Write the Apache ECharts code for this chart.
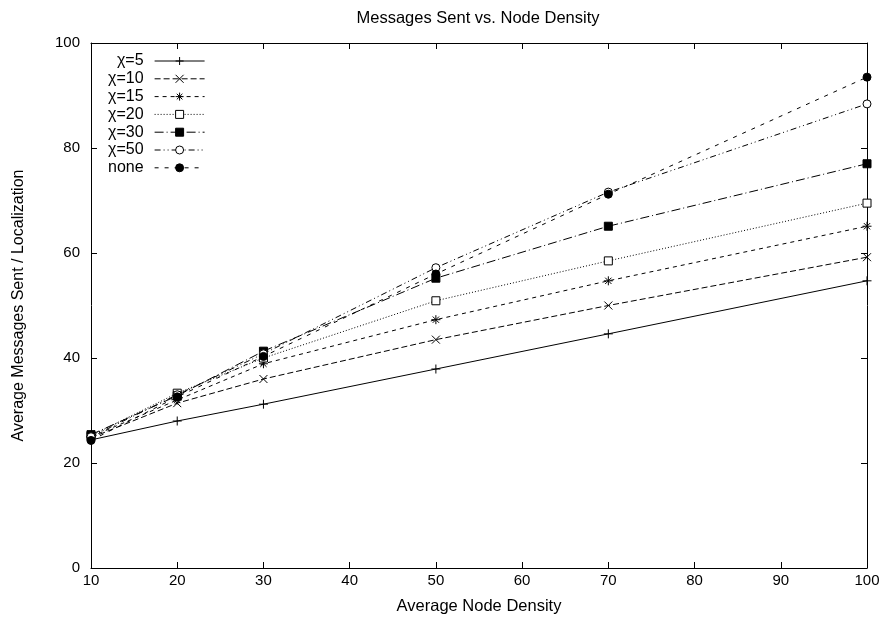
<!DOCTYPE html>
<html>
<head>
<meta charset="utf-8">
<script src="https://cdn.jsdelivr.net/npm/echarts@6/dist/echarts.min.js"></script>
<style>
html,body{margin:0;padding:0;background:#fff;}
#chart{width:885px;height:625px;}
</style>
</head>
<body>
<div id="chart"></div>
<script>
// ---- data ----
const xValues = [10, 20, 30, 50, 70, 100];
const seriesNames = ['\u03c7=5', '\u03c7=10', '\u03c7=15', '\u03c7=20', '\u03c7=30', '\u03c7=50', 'none'];
const chi5  = [24.4, 28.0, 31.2, 37.9, 44.6, 54.7];
const chi10 = [24.8, 31.4, 36.0, 43.5, 50.0, 59.2];
const chi15 = [25.0, 32.0, 38.9, 47.3, 54.7, 65.1];
const chi20 = [25.2, 33.3, 40.0, 50.9, 58.5, 69.5];
const chi30 = [25.4, 32.8, 41.3, 55.2, 65.1, 77.0];
const chi50 = [25.0, 33.0, 40.8, 57.2, 71.6, 88.4];
const none  = [24.3, 32.6, 40.3, 56.0, 71.2, 93.5];
const allValues = [chi5, chi10, chi15, chi20, chi30, chi50, none];
const xTicks = [10, 20, 30, 40, 50, 60, 70, 80, 90, 100];
const yTicks = [0, 20, 40, 60, 80, 100];

const FONT = '"Liberation Sans", Arial, Helvetica, sans-serif';
const black = '#000';

const symbols = [
  'path://M5 0 L5 10 M0 5 L10 5',
  'path://M0 0 L10 10 M10 0 L0 10',
  'path://M5 0 L5 10 M0 5 L10 5 M1.5 1.5 L8.5 8.5 M8.5 1.5 L1.5 8.5',
  'rect',
  'rect',
  'circle',
  'circle'
];
const fills = ['none', 'none', 'none', '#fff', black, '#fff', black];
const sizes = [9, 8, 9, 8, 8, 8, 8];
const dashes = [
  'solid',
  [6, 3],
  [4, 4],
  [1, 2],
  [9, 3, 1, 3],
  [6, 3, 1, 3, 1, 3],
  [4, 6]
];

const series = seriesNames.map((name, i) => ({
  name: name,
  type: 'line',
  data: xValues.map((x, j) => [x, allValues[i][j]]),
  symbol: symbols[i],
  symbolSize: sizes[i],
  showAllSymbol: true,
  animation: false,
  lineStyle: { color: black, width: 1, type: dashes[i] },
  itemStyle: { color: fills[i], borderColor: black, borderWidth: 1 },
  emphasis: { disabled: true },
  z: 2 + i
}));

const chart = echarts.init(document.getElementById('chart'), null, { renderer: 'canvas' });
chart.setOption({
  backgroundColor: '#fff',
  animation: false,
  textStyle: { fontFamily: FONT },
  title: {
    text: 'Messages Sent vs. Node Density',
    left: 473,
    textAlign: 'center',
    top: 5,
    textStyle: { fontFamily: FONT, fontSize: 16.5, fontWeight: 'normal', color: black }
  },
  grid: { left: 91, right: 18, top: 43, bottom: 57, containLabel: false },
  legend: {
    orient: 'vertical',
    left: 103,
    top: 48,
    align: 'right',
    itemWidth: 50,
    itemHeight: 10,
    itemGap: 1.8,
    selectedMode: false,
    data: seriesNames,
    itemStyle: { borderWidth: 1, borderColor: black },
    lineStyle: { width: 1, color: black },
    textStyle: { fontFamily: FONT, fontSize: 16, color: black, lineHeight: 16, padding: [0, 6, 0, 0] }
  },
  xAxis: [{
    type: 'value',
    min: xTicks[0],
    max: xTicks[xTicks.length - 1],
    interval: 10,
    name: 'Average Node Density',
    nameLocation: 'middle',
    nameGap: 30,
    nameTextStyle: { fontFamily: FONT, fontSize: 16.5, color: black },
    axisLine: { show: true, lineStyle: { color: black, width: 1 } },
    axisTick: { show: true, inside: true, length: 6, lineStyle: { color: black } },
    axisLabel: { fontFamily: FONT, fontSize: 15, color: black, margin: 5 },
    splitLine: { show: false }
  }, {
    type: 'value',
    position: 'top',
    min: xTicks[0],
    max: xTicks[xTicks.length - 1],
    interval: 10,
    axisLine: { show: true, onZero: false, lineStyle: { color: black, width: 1 } },
    axisTick: { show: true, inside: true, length: 6, lineStyle: { color: black } },
    axisLabel: { show: false },
    splitLine: { show: false }
  }],
  yAxis: [{
    type: 'value',
    min: yTicks[0],
    max: yTicks[yTicks.length - 1],
    interval: 20,
    name: 'Average Messages Sent / Localization',
    nameLocation: 'middle',
    nameGap: 64,
    nameTextStyle: { fontFamily: FONT, fontSize: 16, color: black },
    axisLine: { show: true, lineStyle: { color: black, width: 1 } },
    axisTick: { show: true, inside: true, length: 6, lineStyle: { color: black } },
    axisLabel: { fontFamily: FONT, fontSize: 15, color: black, margin: 11 },
    splitLine: { show: false }
  }, {
    type: 'value',
    position: 'right',
    min: yTicks[0],
    max: yTicks[yTicks.length - 1],
    interval: 20,
    axisLine: { show: true, onZero: false, lineStyle: { color: black, width: 1 } },
    axisTick: { show: true, inside: true, length: 6, lineStyle: { color: black } },
    axisLabel: { show: false },
    splitLine: { show: false }
  }],
  series: series
});
</script>
</body>
</html>
